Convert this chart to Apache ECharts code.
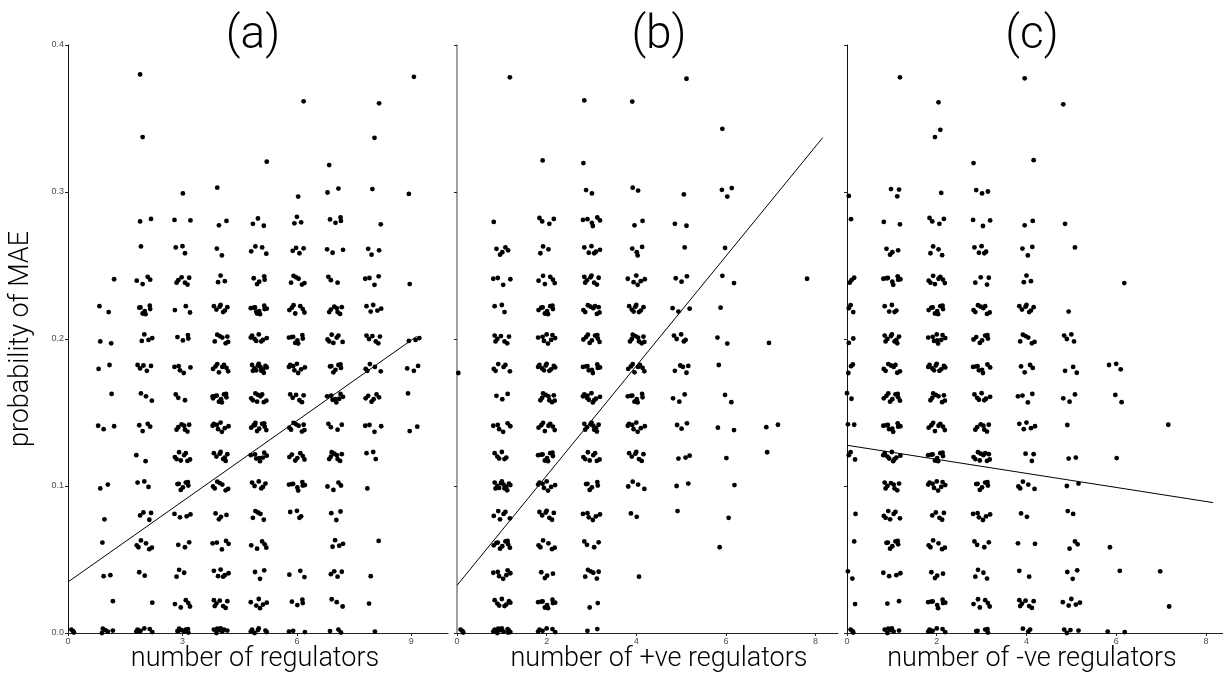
<!DOCTYPE html>
<html>
<head>
    <meta charset="utf-8">
    <title>probability of MAE vs number of regulators</title>
    <script src="https://cdn.jsdelivr.net/npm/echarts@6/dist/echarts.min.js"></script>
    <style>
        html, body { margin: 0; padding: 0; background: #fff; }
    </style>
</head>
<body>
    <div id="main" style="width: 1223px;height:677px;"></div>

    <script type="text/javascript">
        // y levels of the jittered columns (probability of MAE)
        var levels = [0.00, 0.02, 0.04, 0.06, 0.08, 0.10, 0.12, 0.14, 0.16, 0.18,
                      0.20, 0.22, 0.24, 0.26, 0.28, 0.30, 0.32, 0.34, 0.36, 0.38];

        // number of points per (level row, regulator count column)
        // (a) number of regulators, columns 0..9
        var countsA = [
            [6, 8, 12, 15, 15, 10, 5, 4, 1, 0],
            [0, 1, 1, 5, 7, 6, 4, 3, 1, 0],
            [0, 2, 2, 3, 6, 3, 3, 4, 1, 0],
            [0, 1, 6, 3, 5, 5, 0, 4, 1, 0],
            [0, 1, 4, 4, 4, 5, 4, 3, 0, 0],
            [0, 2, 3, 7, 7, 6, 8, 4, 1, 0],
            [0, 0, 2, 8, 8, 8, 7, 8, 3, 0],
            [0, 3, 4, 7, 8, 10, 8, 4, 4, 2],
            [0, 1, 3, 3, 10, 9, 6, 8, 6, 1],
            [0, 2, 5, 5, 8, 12, 8, 7, 5, 3],
            [0, 2, 4, 4, 7, 8, 8, 7, 6, 3],
            [0, 2, 7, 3, 7, 10, 7, 7, 5, 0],
            [0, 1, 4, 6, 3, 5, 6, 3, 4, 1],
            [0, 0, 1, 3, 2, 4, 4, 3, 3, 0],
            [0, 0, 2, 2, 2, 3, 3, 4, 1, 0],
            [0, 0, 0, 1, 1, 0, 1, 2, 1, 1],
            [0, 0, 0, 0, 0, 1, 0, 1, 0, 0],
            [0, 0, 1, 0, 0, 0, 0, 0, 1, 0],
            [0, 0, 0, 0, 0, 0, 1, 0, 1, 0],
            [0, 0, 1, 0, 0, 0, 0, 0, 0, 1]
        ];
        // (b) number of +ve regulators, columns 0..8
        var countsB = [
            [6, 20, 10, 3, 0, 0, 0, 0, 0],
            [0, 8, 9, 2, 0, 0, 0, 0, 0],
            [0, 7, 4, 6, 1, 0, 0, 0, 0],
            [0, 9, 6, 4, 0, 0, 1, 0, 0],
            [0, 6, 7, 6, 2, 1, 1, 0, 0],
            [0, 12, 8, 6, 4, 2, 1, 0, 0],
            [0, 6, 9, 8, 7, 3, 1, 1, 0],
            [0, 6, 8, 10, 8, 3, 2, 2, 0],
            [0, 3, 9, 10, 8, 3, 2, 0, 0],
            [1, 6, 10, 9, 8, 5, 1, 0, 0],
            [0, 7, 8, 9, 9, 5, 2, 1, 0],
            [0, 3, 9, 9, 8, 3, 1, 0, 0],
            [0, 4, 6, 8, 6, 3, 2, 0, 1],
            [0, 5, 3, 6, 4, 1, 1, 0, 0],
            [0, 1, 4, 6, 2, 2, 0, 0, 0],
            [0, 0, 0, 2, 2, 1, 3, 0, 0],
            [0, 0, 1, 1, 0, 0, 0, 0, 0],
            [0, 0, 0, 0, 0, 0, 1, 0, 0],
            [0, 0, 0, 1, 1, 0, 0, 0, 0],
            [0, 1, 0, 0, 0, 1, 0, 0, 0]
        ];
        // (c) number of -ve regulators, columns 0..8
        var countsC = [
            [5, 10, 12, 8, 7, 5, 3, 0, 0],
            [1, 2, 8, 6, 7, 5, 0, 1, 0],
            [2, 4, 4, 4, 2, 3, 1, 1, 0],
            [1, 7, 6, 4, 2, 3, 1, 0, 0],
            [1, 7, 5, 6, 2, 2, 0, 0, 0],
            [0, 8, 9, 7, 5, 2, 0, 0, 0],
            [3, 9, 9, 10, 3, 2, 1, 0, 0],
            [2, 9, 8, 7, 5, 1, 0, 1, 0],
            [2, 9, 8, 7, 4, 3, 2, 0, 0],
            [3, 8, 10, 8, 4, 3, 3, 0, 0],
            [2, 9, 9, 7, 6, 4, 0, 0, 0],
            [3, 5, 9, 8, 7, 1, 0, 0, 0],
            [3, 8, 8, 4, 3, 0, 1, 0, 0],
            [0, 4, 4, 5, 3, 1, 0, 0, 0],
            [1, 2, 4, 3, 2, 1, 0, 0, 0],
            [1, 3, 1, 3, 0, 0, 0, 0, 0],
            [0, 0, 0, 1, 1, 0, 0, 0, 0],
            [0, 0, 2, 0, 0, 0, 0, 0, 0],
            [0, 0, 1, 0, 0, 1, 0, 0, 0],
            [0, 1, 0, 0, 1, 0, 0, 0, 0]
        ];

        // fitted lines: [x, y] end points
        var fitA = [[0, 0.0347], [9.14, 0.2018]];
        var fitB = [[0, 0.0324], [8.16, 0.337]];
        var fitC = [[0, 0.1277], [8.16, 0.0887]];

        var panelTitles = ['(a)', '(b)', '(c)'];
        var xNames = ['number of regulators', 'number of +ve regulators', 'number of -ve regulators'];
        var yName = 'probability of MAE';

        // fixed jitter pattern (fraction of the half spread) used to spread the points of a cell
        var jitter = [
            [0.05, -0.3], [-0.6, 0.4], [0.7, 0.1], [-0.2, -0.8], [0.4, 0.7], [-0.9, -0.1],
            [0.9, -0.6], [-0.4, 0.9], [0.2, 0.3], [-0.7, -0.5], [0.6, -0.9], [-0.1, 0.6],
            [0.8, 0.5], [-0.5, 0.0], [0.3, -0.5], [-0.8, 0.7], [0.0, 0.95], [0.5, -0.2],
            [-0.3, -0.4], [0.95, 0.2], [-0.95, 0.3], [0.15, -0.95], [-0.45, 0.45], [0.65, 0.8]
        ];

        function cellPoints(counts, xSpread) {
            var pts = [];
            counts.forEach(function (row, r) {
                row.forEach(function (n, c) {
                    var start = (c * 7 + r * 5) % jitter.length;
                    for (var i = 0; i < n; i++) {
                        var j = jitter[(start + i) % jitter.length];
                        var dx = j[0] * xSpread;
                        if (c === 0) dx = Math.abs(dx);
                        pts.push([c + dx, levels[r] + j[1] * 0.0033]);
                    }
                });
            });
            return pts;
        }

        var FONT = 'Roboto, "Helvetica Neue", Arial, sans-serif';
        var tickLabel = { fontSize: 9, color: '#4d4d4d', margin: 4, fontFamily: 'Arial, sans-serif' };

        function xAxisOf(i, max, interval) {
            return {
                type: 'value', gridIndex: i, min: 0, max: max, interval: interval,
                axisLine: { lineStyle: { color: '#222', width: 1 } },
                axisTick: { length: 3, lineStyle: { color: '#222' } },
                axisLabel: Object.assign({ showMaxLabel: false }, tickLabel),
                splitLine: { show: false }
            };
        }

        function yAxisOf(i, showLabels, color, width) {
            return {
                type: 'value', gridIndex: i, min: 0, max: 0.4, interval: 0.1,
                axisLine: { show: true, lineStyle: { color: color, width: width } },
                axisTick: { show: true, length: 3, lineStyle: { color: '#222' } },
                axisLabel: Object.assign({
                    show: showLabels,
                    formatter: function (v) { return v.toFixed(1); }
                }, tickLabel),
                splitLine: { show: false }
            };
        }

        var dom = document.getElementById('main');
        var myChart = echarts.init(dom, null, { renderer: 'canvas' });

        var titleStyle = { fontSize: 46, fontWeight: 300, color: '#000', fontFamily: FONT };
        var nameStyle = { fontSize: 27, fontWeight: 300, color: '#000', fontFamily: FONT };

        var dotStyle = { color: '#000', opacity: 1 };

        var option = {
            backgroundColor: '#fff',
            animation: false,
            title: [
                { text: panelTitles[0], left: 248, top: 8, textAlign: 'center', textStyle: titleStyle },
                { text: panelTitles[1], left: 654, top: 8, textAlign: 'center', textStyle: titleStyle },
                { text: panelTitles[2], left: 1027, top: 8, textAlign: 'center', textStyle: titleStyle },
                { text: xNames[0], left: 250, top: 641, textAlign: 'center', textStyle: nameStyle },
                { text: xNames[1], left: 654, top: 641, textAlign: 'center', textStyle: nameStyle },
                { text: xNames[2], left: 1027, top: 641, textAlign: 'center', textStyle: nameStyle }
            ],
            grid: [
                { left: 68, right: 775, top: 45, bottom: 44 },
                { left: 457, right: 385, top: 45, bottom: 44 },
                { left: 847, right: 0, top: 45, bottom: 44 }
            ],
            xAxis: [
                xAxisOf(0, 9.96, 3),
                xAxisOf(1, 8.5, 2),
                xAxisOf(2, 8.38, 2)
            ],
            yAxis: [
                Object.assign(yAxisOf(0, true, '#111', 1), {
                    name: yName, nameLocation: 'middle', nameRotate: 90, nameGap: 33,
                    nameTextStyle: nameStyle
                }),
                yAxisOf(1, false, '#888', 1.6),
                yAxisOf(2, false, '#111', 1)
            ],
            series: [
                { type: 'scatter', xAxisIndex: 0, yAxisIndex: 0, data: cellPoints(countsA, 0.22),
                  symbolSize: 4.8, itemStyle: dotStyle, clip: true },
                { type: 'scatter', xAxisIndex: 1, yAxisIndex: 1, data: cellPoints(countsB, 0.2),
                  symbolSize: 4.8, itemStyle: dotStyle, clip: true },
                { type: 'scatter', xAxisIndex: 2, yAxisIndex: 2, data: cellPoints(countsC, 0.2),
                  symbolSize: 4.8, itemStyle: dotStyle, clip: true },
                { type: 'line', xAxisIndex: 0, yAxisIndex: 0, data: fitA, symbol: 'none',
                  lineStyle: { color: '#000', width: 1 } },
                { type: 'line', xAxisIndex: 1, yAxisIndex: 1, data: fitB, symbol: 'none',
                  lineStyle: { color: '#000', width: 1 } },
                { type: 'line', xAxisIndex: 2, yAxisIndex: 2, data: fitC, symbol: 'none',
                  lineStyle: { color: '#000', width: 1 } }
            ]
        };

        if (option && typeof option === 'object') {
            myChart.setOption(option, true);
        }
    </script>
</body>
</html>
